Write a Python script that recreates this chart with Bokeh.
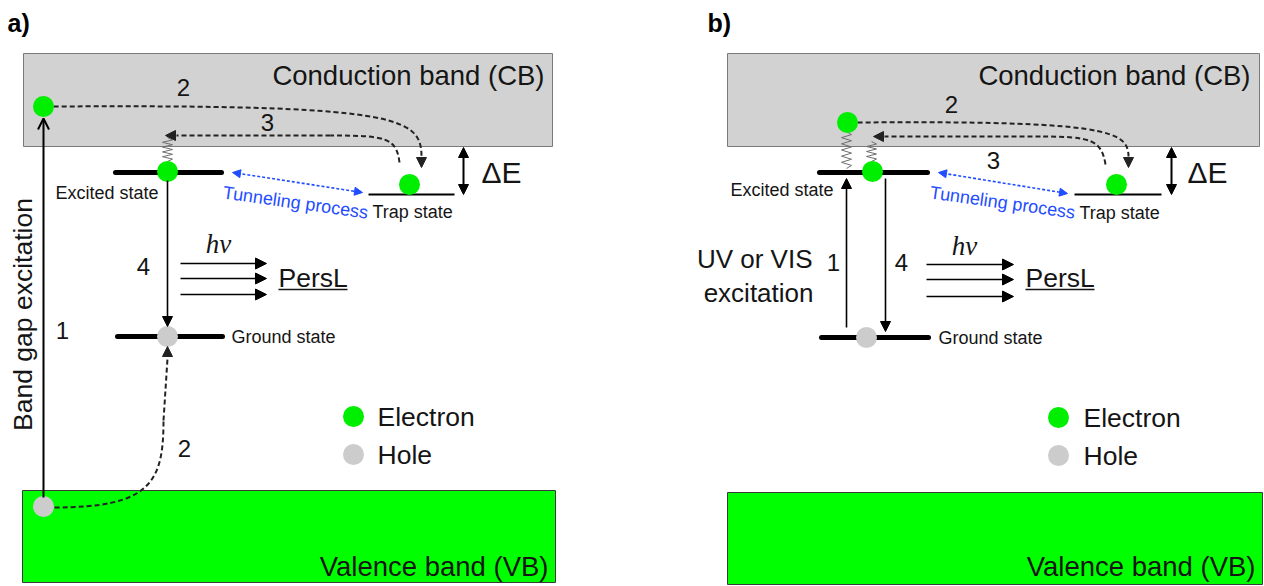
import numpy as np
from bokeh.plotting import figure
from bokeh.models import Range1d, Arrow, NormalHead, OpenHead, ColumnDataSource
from bokeh.core.properties import value
from bokeh.embed import file_html
from bokeh.resources import INLINE

W, H = 1264, 586
FONT = "Liberation Sans"
INK = "#151515"
BLUE = "#1f4dff"

# ---------------- diagram data (pixel-space coordinates of the two panels) -------------
panel_labels = ["a)", "b)"]
panel_label_x = [7, 707]
panel_label_y = [22, 22]

cb_left, cb_right, cb_top, cb_bottom = [23, 727], [552, 1259], [53, 53], [146, 146]
vb_left, vb_right, vb_top, vb_bottom = [22, 727], [555, 1262], [490, 492], [582, 584]

band_names = ["Conduction band (CB)", "Conduction band (CB)", "Valence band (VB)", "Valence band (VB)"]
band_name_x = [544, 1250, 548, 1255]
band_name_y = [75, 75, 566, 566]

level_x0 = [115, 117, 819, 821]          # excited / ground state levels (thick)
level_x1 = [221, 222, 927, 928]
level_y = [172, 336, 172, 337]

trap_x0, trap_x1, trap_y = [368, 1074], [454, 1161], [194, 194]

electron_x = [43, 167, 409, 847, 872, 1116, 353, 1058]
electron_y = [106, 171, 184, 122, 171, 184, 416, 417]
hole_x = [43, 167, 866, 353, 1058]
hole_y = [506, 336, 337, 454, 455]

small_labels = ["Excited state", "Trap state", "Ground state",
                "Excited state", "Trap state", "Ground state"]
small_label_x = [55, 372, 231, 730, 1079, 938]
small_label_y = [192, 211, 336, 189, 212, 337]

step_labels = ["2", "3", "4", "1", "2", "2", "3", "1", "4"]
step_x = [183, 267, 143, 62, 184, 951, 993, 833, 901]
step_y = [87, 122, 266, 330, 448, 104, 160, 262, 262]

legend_labels = ["Electron", "Hole", "Electron", "Hole"]
legend_x = [377, 377, 1083, 1083]
legend_y = [416, 454, 417, 455]

persl_x, persl_y = [278, 1025], [277, 277]
persl_ul_x0, persl_ul_x1, persl_ul_y = [278, 1025], [347, 1094], [289, 289]
hnu_x, hnu_y = [218, 964], [243, 245]
dE_x, dE_y = [481, 1187], [172, 172]

uvvis_lines = ["UV or VIS", "excitation"]
uvvis_x, uvvis_y = [812, 813], [258, 292]

tunnel_text_x, tunnel_text_y = [295, 1002], [202, 202]
tunnel_angle_deg = -8

# arrows
emis_x0, emis_x1 = [180, 180, 180, 926, 926, 926], [266, 266, 266, 1013, 1013, 1013]
emis_y = [263, 278, 294, 264, 279, 296]

solid_x0 = [167, 846, 885]
solid_y0 = [180, 327, 178]
solid_x1 = [167, 846, 885]
solid_y1 = [326, 178, 331]

gap_x0, gap_y0, gap_x1, gap_y1 = [43], [497], [43], [118]

dE_arrow_x, dE_arrow_y0, dE_arrow_y1 = [463, 1171], [147, 147], [194, 194]

tun_x0, tun_y0, tun_x1, tun_y1 = [232, 938], [172, 172], [362, 1067], [192, 193]

# dashed curves: cubic beziers (start, control1, control2, end)
bz_x0 = [53, 399, 54, 857, 1105]
bz_y0 = [106, 162, 507, 122, 164]
bz_cx0 = [395, 396, 150, 1105, 1101]
bz_cy0 = [104, 137, 507, 120, 139]
bz_cx1 = [421, 385, 163, 1128, 1090]
bz_cy1 = [116, 135, 482, 130, 136]
bz_x1 = [421, 330, 163, 1128, 1040]
bz_y1 = [156, 135, 420, 156, 136]
# straight dashed continuations
dl_x0, dl_y0, dl_x1, dl_y1 = [330, 163, 1040], [135, 420, 136], [176, 167, 884], [135, 358, 136]
# dashed arrowheads (tiny segments ending at the tip)
dh_x0 = [421, 176, 167, 1128, 884]
dh_y0 = [156, 135, 358, 156, 136]
dh_x1 = [421, 165, 167, 1128, 873]
dh_y1 = [167, 135, 346, 167, 136]

# springs (vertical zig-zags)
spring_x = [167, 846, 871]
spring_y0 = [137, 131, 141]
spring_y1 = [161, 168, 161]
spring_turns = [5, 6, 4]

# ---------------- figure -------------
p = figure(width=W, height=H, x_range=Range1d(0, W), y_range=Range1d(H, 0),
           x_axis_type=None, y_axis_type=None, toolbar_location=None,
           output_backend="svg", min_border=0, background_fill_color="white",
           border_fill_color="white")
p.grid.visible = False
p.outline_line_color = None

# bands
p.quad(left=cb_left, right=cb_right, top=cb_top, bottom=cb_bottom,
       fill_color="#d2d2d2", line_color="#7a7a7a", line_width=1)
p.quad(left=vb_left, right=vb_right, top=vb_top, bottom=vb_bottom,
       fill_color="#00ff00", line_color="#3a3a3a", line_width=1)

# levels
p.segment(x0=level_x0, y0=level_y, x1=level_x1, y1=level_y,
          line_color="black", line_width=5, line_cap="round")
p.segment(x0=trap_x0, y0=trap_y, x1=trap_x1, y1=trap_y, line_color="black", line_width=2)

# springs
for sx, sy0, sy1, n in zip(spring_x, spring_y0, spring_y1, spring_turns):
    ys = np.linspace(sy0, sy1, 2 * n + 1)
    xs = [sx + (0 if i in (0, 2 * n) else (5 if i % 2 else -5)) for i in range(2 * n + 1)]
    p.line(xs, list(ys), line_color="#6e6e6e", line_width=1)

# dashed curves
p.bezier(x0=bz_x0, y0=bz_y0, x1=bz_x1, y1=bz_y1, cx0=bz_cx0, cy0=bz_cy0,
         cx1=bz_cx1, cy1=bz_cy1, line_color="#222222", line_width=2, line_dash="5 3")
p.segment(x0=dl_x0, y0=dl_y0, x1=dl_x1, y1=dl_y1, line_color="#222222",
          line_width=2, line_dash="5 3")
p.add_layout(Arrow(end=NormalHead(size=10, fill_color="#222222", line_color="#222222"),
                   line_alpha=0, source=ColumnDataSource(dict(x0=dh_x0, y0=dh_y0, x1=dh_x1, y1=dh_y1)),
                   x_start="x0", y_start="y0", x_end="x1", y_end="y1"))

# tunneling double arrows
p.add_layout(Arrow(start=NormalHead(size=8, fill_color=BLUE, line_color=BLUE),
                   end=NormalHead(size=8, fill_color=BLUE, line_color=BLUE),
                   line_color=BLUE, line_width=1.6, line_dash="3 2",
                   source=ColumnDataSource(dict(x0=tun_x0, y0=tun_y0, x1=tun_x1, y1=tun_y1)),
                   x_start="x0", y_start="y0", x_end="x1", y_end="y1"))

# solid arrows
p.add_layout(Arrow(end=NormalHead(size=10, fill_color="black", line_color="black"),
                   line_color="black", line_width=1.6,
                   source=ColumnDataSource(dict(x0=solid_x0, y0=solid_y0, x1=solid_x1, y1=solid_y1)),
                   x_start="x0", y_start="y0", x_end="x1", y_end="y1"))
p.add_layout(Arrow(end=OpenHead(size=11, line_color="black", line_width=2),
                   line_color="black", line_width=2,
                   source=ColumnDataSource(dict(x0=gap_x0, y0=gap_y0, x1=gap_x1, y1=gap_y1)),
                   x_start="x0", y_start="y0", x_end="x1", y_end="y1"))
p.add_layout(Arrow(end=NormalHead(size=11, fill_color="black", line_color="black"),
                   line_color="black", line_width=1.5,
                   source=ColumnDataSource(dict(x0=emis_x0, y0=emis_y, x1=emis_x1, y1=emis_y)),
                   x_start="x0", y_start="y0", x_end="x1", y_end="y1"))
p.add_layout(Arrow(start=NormalHead(size=10, fill_color="black", line_color="black"),
                   end=NormalHead(size=10, fill_color="black", line_color="black"),
                   line_color="black", line_width=2,
                   source=ColumnDataSource(dict(x0=dE_arrow_x, y0=dE_arrow_y0, x1=dE_arrow_x, y1=dE_arrow_y1)),
                   x_start="x0", y_start="y0", x_end="x1", y_end="y1"))

# particles
p.scatter(x=electron_x, y=electron_y, size=21, fill_color="#00ee00", line_color=None)
p.scatter(x=hole_x, y=hole_y, size=21, fill_color="#cccccc", line_color=None)

# underline of PersL
p.segment(x0=persl_ul_x0, y0=persl_ul_y, x1=persl_ul_x1, y1=persl_ul_y, line_color=INK, line_width=1.5)

# ---------------- texts -------------
f = value(FONT)
p.text(x=panel_label_x, y=panel_label_y, text=panel_labels, text_font=f, text_font_size="25px",
       text_font_style="bold", text_color="black", text_baseline="middle", text_align="left")
p.text(x=band_name_x, y=band_name_y, text=band_names, text_font=f, text_font_size="27.5px",
       text_color=INK, text_baseline="middle", text_align="right")
p.text(x=small_label_x, y=small_label_y, text=small_labels, text_font=f, text_font_size="18px",
       text_color=INK, text_baseline="middle", text_align="left")
p.text(x=step_x, y=step_y, text=step_labels, text_font=f, text_font_size="24px",
       text_color=INK, text_baseline="middle", text_align="center")
p.text(x=legend_x, y=legend_y, text=legend_labels, text_font=f, text_font_size="26.5px",
       text_color=INK, text_baseline="middle", text_align="left")
p.text(x=persl_x, y=persl_y, text=["PersL", "PersL"], text_font=f, text_font_size="26.5px",
       text_color=INK, text_baseline="middle", text_align="left")
p.text(x=hnu_x, y=hnu_y, text=["h\u03bd", "h\u03bd"], text_font=value("Liberation Serif"),
       text_font_size="27px", text_font_style="italic", text_color=INK,
       text_baseline="middle", text_align="center")
p.text(x=dE_x, y=dE_y, text=["\u0394E", "\u0394E"], text_font=f, text_font_size="30px",
       text_color=INK, text_baseline="middle", text_align="left")
p.text(x=uvvis_x, y=uvvis_y, text=uvvis_lines, text_font=f, text_font_size="26px",
       text_color=INK, text_baseline="middle", text_align="right")
p.text(x=[22], y=[314], text=["Band gap excitation"], text_font=f, text_font_size="26.5px",
       text_color=INK, text_baseline="middle", text_align="center", angle=90, angle_units="deg")
p.text(x=tunnel_text_x, y=tunnel_text_y, text=["Tunneling process", "Tunneling process"],
       text_font=f, text_font_size="18px", text_color=BLUE, text_baseline="middle",
       text_align="center", angle=tunnel_angle_deg, angle_units="deg")

open("out.html", "w").write(file_html(p, INLINE))
